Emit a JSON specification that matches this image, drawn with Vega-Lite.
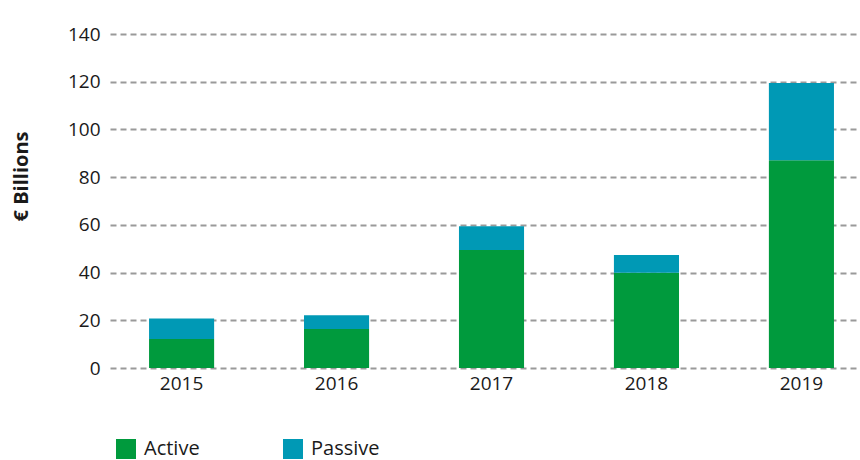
{
  "$schema": "https://vega.github.io/schema/vega-lite/v6.json",
  "width": 750,
  "height": 334,
  "autosize": {"type": "none"},
  "padding": {"left": 110, "top": 34, "right": 0, "bottom": 92},
  "background": "white",
  "config": {
    "font": "Open Sans",
    "view": {"stroke": null}
  },
  "data": {
    "values": [
      {"year": "2015", "type": "Active", "value": 12.2},
      {"year": "2015", "type": "Passive", "value": 8.5},
      {"year": "2016", "type": "Active", "value": 16.3},
      {"year": "2016", "type": "Passive", "value": 5.8},
      {"year": "2017", "type": "Active", "value": 49.5},
      {"year": "2017", "type": "Passive", "value": 9.9},
      {"year": "2018", "type": "Active", "value": 39.9},
      {"year": "2018", "type": "Passive", "value": 7.5},
      {"year": "2019", "type": "Active", "value": 87.1},
      {"year": "2019", "type": "Passive", "value": 32.4}
    ]
  },
  "mark": {"type": "bar"},
  "encoding": {
    "x": {
      "field": "year",
      "type": "nominal",
      "scale": {"paddingInner": 0.58, "paddingOuter": 0.21, "align": 0.6},
      "axis": {
        "title": null,
        "labelAngle": 0,
        "labelFontSize": 19,
        "labelColor": "#1a1a1a",
        "labelPadding": 6,
        "domain": false,
        "ticks": false
      }
    },
    "y": {
      "field": "value",
      "type": "quantitative",
      "stack": "zero",
      "scale": {"domain": [0, 140]},
      "axis": {
        "title": "€ Billions",
        "titleFontSize": 20,
        "titleFontWeight": "bold",
        "titleColor": "#1a1a1a",
        "titleX": -89,
        "titleY": 142,
        "titleAngle": 270,
        "titleAlign": "center",
        "titleBaseline": "middle",
        "values": [0, 20, 40, 60, 80, 100, 120, 140],
        "labelFontSize": 19,
        "labelColor": "#1a1a1a",
        "labelPadding": 10,
        "domain": false,
        "ticks": false,
        "grid": true,
        "gridColor": "#9a9a9a",
        "gridDash": [6, 4],
        "gridWidth": 1.8
      }
    },
    "color": {
      "field": "type",
      "type": "nominal",
      "scale": {"domain": ["Active", "Passive"], "range": ["#009a3d", "#0099b5"]},
      "legend": {
        "title": null,
        "orient": "none",
        "legendX": 6,
        "legendY": 405,
        "direction": "horizontal",
        "columns": 2,
        "symbolType": "square",
        "symbolSize": 400,
        "symbolStrokeWidth": 0,
        "symbolOpacity": 1,
        "labelFontSize": 20,
        "labelColor": "#1a1a1a",
        "labelOffset": 8,
        "columnPadding": 83,
        "padding": 0
      }
    },
    "order": {"field": "type", "sort": "ascending"}
  }
}
